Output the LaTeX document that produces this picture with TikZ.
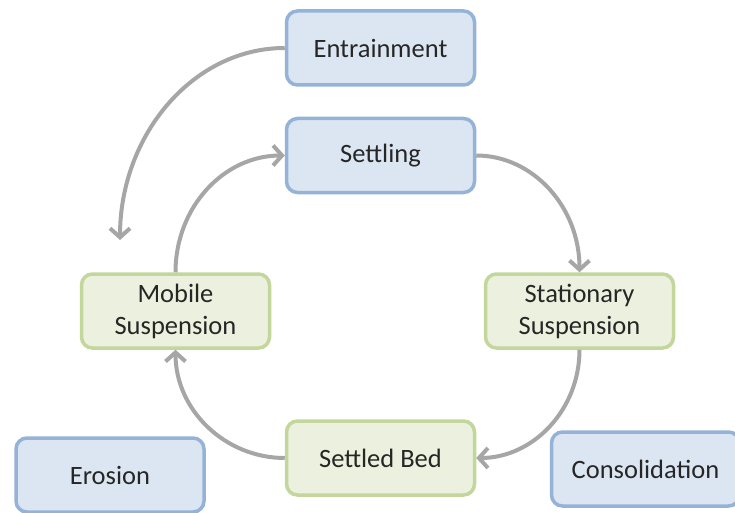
\documentclass[tikz,border=0pt]{standalone}
\usepackage{fontspec}
\setmainfont{Carlito}
\usetikzlibrary{arrows.meta}
\definecolor{bluefill}{HTML}{DCE6F2}
\definecolor{blueline}{HTML}{95B3D7}
\definecolor{greenfill}{HTML}{EBF1DE}
\definecolor{greenline}{HTML}{C3D69B}
\definecolor{arrowgray}{HTML}{A6A6A6}
\definecolor{txt}{HTML}{262626}
\tikzset{
  box/.style={rounded corners=11pt, line width=3.5pt, minimum width=188pt, minimum height=74pt,
    align=center, text=txt, font=\fontsize{26.5}{32}\selectfont, inner sep=0pt},
  bluebox/.style={box, draw=blueline, fill=bluefill},
  greenbox/.style={box, draw=greenline, fill=greenfill},
  flow/.style={draw=arrowgray, line width=4pt, -{Straight Barb[length=9pt,width=20pt,line width=4pt]}}
}
\begin{document}
\begin{tikzpicture}[x=1pt,y=-1pt]
\clip (0,0) rectangle (735,513);
\fill[white] (0,0) rectangle (735,513);
\node[bluebox] (entr) at (380.5,48) {Entrainment};
\node[bluebox] (settl) at (380.5,155.5) {Settling};
\node[greenbox] (mob) at (175.5,311) {Mobile\\Suspension};
\node[greenbox] (stat) at (579.5,311) {Stationary\\Suspension};
\node[greenbox] (bed) at (380.5,458) {Settled Bed};
\node[bluebox] (eros) at (110,475) {Erosion};
\node[bluebox] (cons) at (645.5,469) {Consolidation};
\coordinate (drop) at (120,240);
\draw[flow] (entr.west) .. controls (193,48) and (120,135) .. (drop);
\draw[flow] (mob.north) .. controls (175.5,207) and (224,155.5) .. (settl.west);
\draw[flow] (settl.east) .. controls (533,155.5) and (579.5,207) .. (stat.north);
\draw[flow] (stat.south) .. controls (579.5,410) and (533,458) .. (bed.east);
\draw[flow] (bed.west) .. controls (225,458) and (175.5,410) .. (mob.south);
\end{tikzpicture}
\end{document}
